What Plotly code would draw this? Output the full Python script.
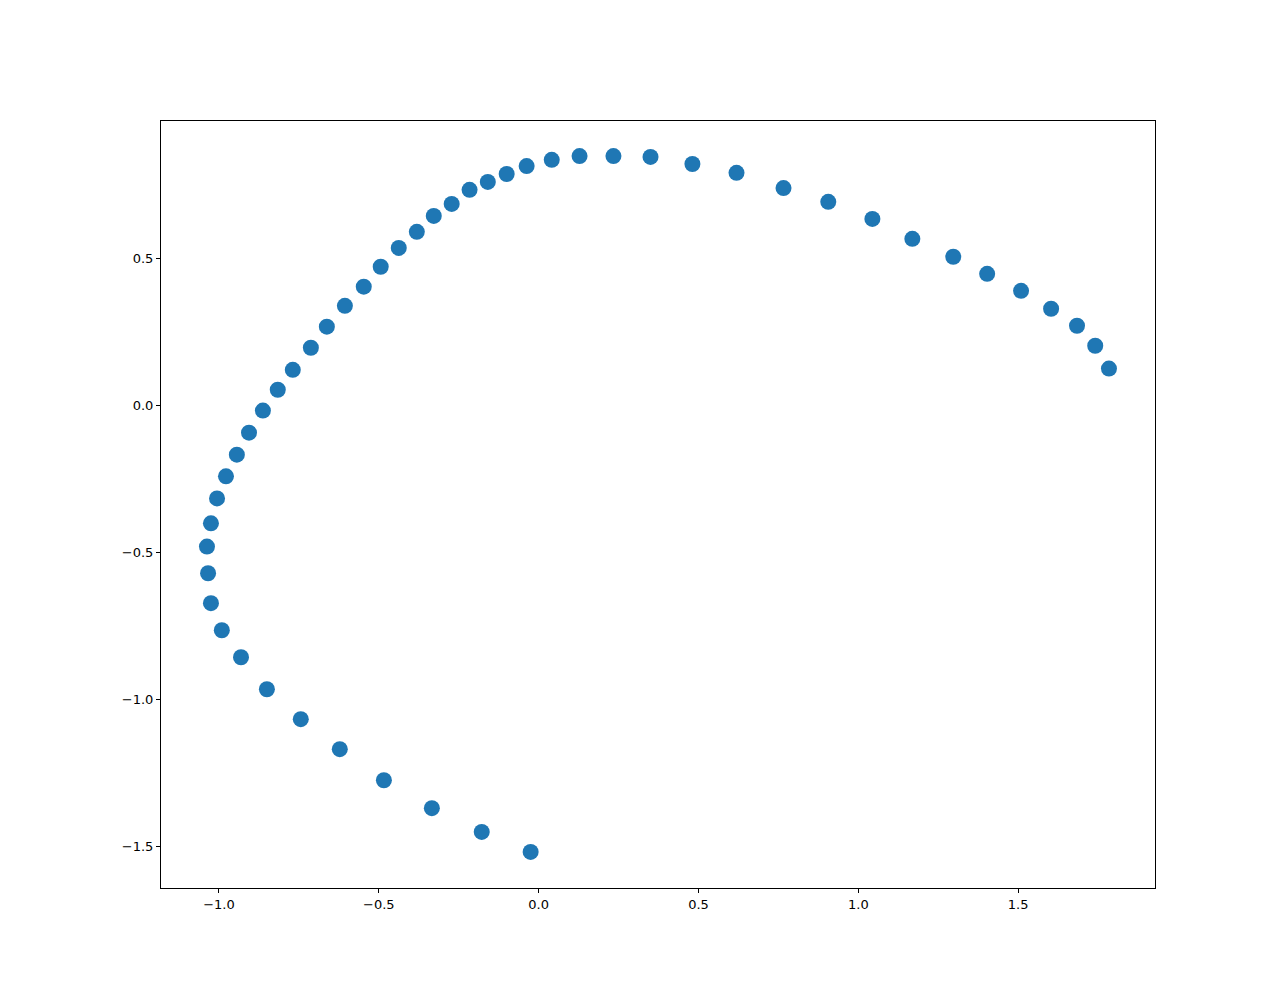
import plotly.graph_objects as go

x_vals = [-0.025, -0.178, -0.334, -0.484, -0.622, -0.744, -0.850, -0.931, -0.991, -1.025,
          -1.034, -1.0375, -1.025, -1.006, -0.978, -0.944, -0.906, -0.8625, -0.816, -0.769,
          -0.7125, -0.6625, -0.606, -0.547, -0.494, -0.4375, -0.381, -0.328, -0.272, -0.216,
          -0.159, -0.100, -0.0375, 0.041, 0.128, 0.234, 0.350, 0.481, 0.619, 0.766,
          0.906, 1.044, 1.169, 1.297, 1.403, 1.509, 1.603, 1.684, 1.741, 1.784]
y_vals = [-1.520, -1.452, -1.371, -1.276, -1.170, -1.068, -0.966, -0.857, -0.765, -0.673,
          -0.571, -0.480, -0.401, -0.316, -0.241, -0.167, -0.092, -0.017, 0.054, 0.122,
          0.197, 0.269, 0.340, 0.405, 0.473, 0.537, 0.592, 0.646, 0.687, 0.735,
          0.762, 0.789, 0.816, 0.837, 0.850, 0.850, 0.847, 0.823, 0.793, 0.741,
          0.694, 0.636, 0.568, 0.507, 0.449, 0.391, 0.330, 0.272, 0.204, 0.126]
x_ticks = [-1.0, -0.5, 0.0, 0.5, 1.0, 1.5]
y_ticks = [-1.5, -1.0, -0.5, 0.0, 0.5]

fig = go.Figure(go.Scatter(
    x=x_vals, y=y_vals, mode="markers",
    marker=dict(size=16, color="#1f77b4", line=dict(width=0)),
))

axis_common = dict(
    showgrid=False, zeroline=False, showline=True, linecolor="black", linewidth=1,
    mirror=True, ticks="outside", ticklen=4, tickcolor="black", tickwidth=1,
    tickformat=".1f", tickfont=dict(family="DejaVu Sans", size=13, color="black"),
)
fig.update_xaxes(range=[-1.18125, 1.928], tickvals=x_ticks, **axis_common)
fig.update_yaxes(range=[-1.643, 0.9694], tickvals=y_ticks, **axis_common)

fig.update_layout(
    width=1267, height=982,
    margin=dict(l=153, r=120, t=113, b=102),
    plot_bgcolor="white", paper_bgcolor="white",
    showlegend=False,
)
fig.write_html("out.html")
